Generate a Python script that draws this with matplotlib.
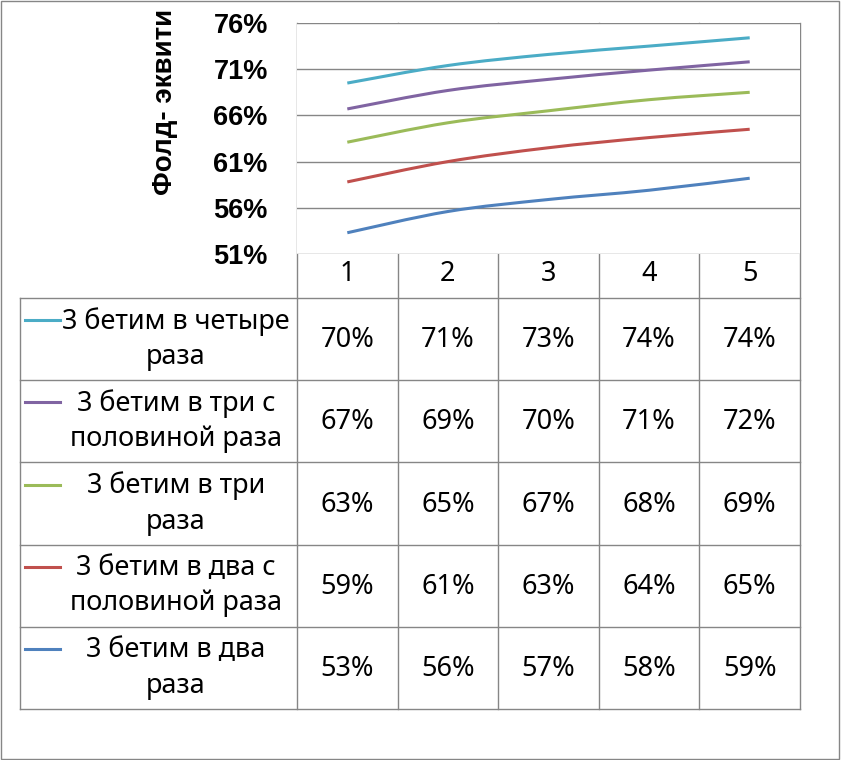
import numpy as np
import matplotlib
matplotlib.use('Agg')
import matplotlib.pyplot as plt
from matplotlib.path import Path
from matplotlib.patches import PathPatch, Rectangle

# data (order: top row of table first)
categories = [1, 2, 3, 4, 5]
series_names = ['3 бетим в четыре\nраза',
                '3 бетим в три с\nполовиной раза',
                '3 бетим в три\nраза',
                '3 бетим в два с\nполовиной раза',
                '3 бетим в два\nраза']
s_four = [69.5, 71.4, 72.6, 73.5, 74.4]
s_three_half = [66.7, 68.7, 69.9, 70.9, 71.8]
s_three = [63.1, 65.2, 66.5, 67.7, 68.5]
s_two_half = [58.8, 61.0, 62.5, 63.6, 64.5]
s_two = [53.3, 55.6, 56.9, 57.9, 59.2]
table_labels = [['70%', '71%', '73%', '74%', '74%'],
                ['67%', '69%', '70%', '71%', '72%'],
                ['63%', '65%', '67%', '68%', '69%'],
                ['59%', '61%', '63%', '64%', '65%'],
                ['53%', '56%', '57%', '58%', '59%']]
y_ticks = [51, 56, 61, 66, 71, 76]
colors = ['#4BACC6', '#8064A2', '#9BBB59', '#C0504D', '#4F81BD']

W, H = 843, 760
L, R, T, B = 297, 800, 23, 254      # plot area (pixels)
TAB_TOP, TAB_BOT, TAB_LEFT = 298, 709, 20
GRID = '#868686'


def smooth_path(xs, ys):
    # bezier curve through the points, like excel "smoothed line"
    p = np.column_stack([xs, ys]).astype(float)
    verts = [p[0]]
    codes = [Path.MOVETO]
    n = len(p)
    for i in range(n - 1):
        p0 = p[i - 1] if i > 0 else p[i]
        p3 = p[i + 2] if i + 2 < n else p[i + 1]
        c1 = p[i] + (p[i + 1] - p0) / 6.0
        c2 = p[i + 1] - (p3 - p[i]) / 6.0
        verts += [c1, c2, p[i + 1]]
        codes += [Path.CURVE4] * 3
    return Path(verts, codes)


fig = plt.figure(figsize=(W / 100, H / 100), dpi=100)

# overlay in pixel coordinates for the table and border
ov = fig.add_axes([0, 0, 1, 1])
ov.set_xlim(0, W)
ov.set_ylim(H, 0)
ov.axis('off')

ax = fig.add_axes([L / W, 1 - B / H, (R - L) / W, (B - T) / H])
ax.set_xlim(0.5, 5.5)
ax.set_ylim(51, 76)
ax.set_yticks(y_ticks)
ax.set_yticklabels(['{}%'.format(v) for v in y_ticks], fontsize=19.5,
                   fontweight='bold', family='Liberation Sans')
ax.set_xticks(categories)
ax.set_xticklabels([str(c) for c in categories], fontsize=19.5, family='Noto Sans')
ax.tick_params(length=0)
ax.tick_params(axis='x', pad=4)
ax.yaxis.set_tick_params(pad=21)
for sp in ax.spines.values():
    sp.set_visible(False)
for v in y_ticks:
    ax.axhline(v, color=GRID, lw=1, zorder=1)

all_series = [s_four, s_three_half, s_three, s_two_half, s_two]
for vals, c in zip(all_series, colors):
    ax.add_patch(PathPatch(smooth_path(categories, vals), fill=False,
                           edgecolor=c, lw=2.2, zorder=3))

# y axis title
fig.text(165 / W, 1 - 102 / H, 'Фолд- эквити', rotation=90, ha='center', va='center',
         fontsize=20, fontweight='bold', family='Liberation Sans')

# table grid
col_edges = np.linspace(L, R, len(categories) + 1)
row_edges = np.linspace(TAB_TOP, TAB_BOT, len(all_series) + 1)
for x in col_edges:
    ov.plot([x, x], [T, TAB_BOT], color=GRID, lw=1)
ov.plot([TAB_LEFT, TAB_LEFT], [TAB_TOP, TAB_BOT], color=GRID, lw=1)
for y in row_edges:
    ov.plot([TAB_LEFT, R], [y, y], color=GRID, lw=1)

for i, (name, c) in enumerate(zip(series_names, colors)):
    yc = (row_edges[i] + row_edges[i + 1]) / 2
    ov.plot([25, 60], [yc - 19, yc - 19], color=c, lw=2.2)
    ov.text(176, yc, name, ha='center', va='center', multialignment='center',
            fontsize=19.5, family='Noto Sans', linespacing=1.35)
    for j, lab in enumerate(table_labels[i]):
        xc = (col_edges[j] + col_edges[j + 1]) / 2
        ov.text(xc, yc + 1, lab, ha='center', va='center', fontsize=19.5, family='Noto Sans')

# outer border
ov.add_patch(Rectangle((1, 1), 838, 758, fill=False, edgecolor=GRID, lw=1))

fig.savefig('out.png', dpi=100)
